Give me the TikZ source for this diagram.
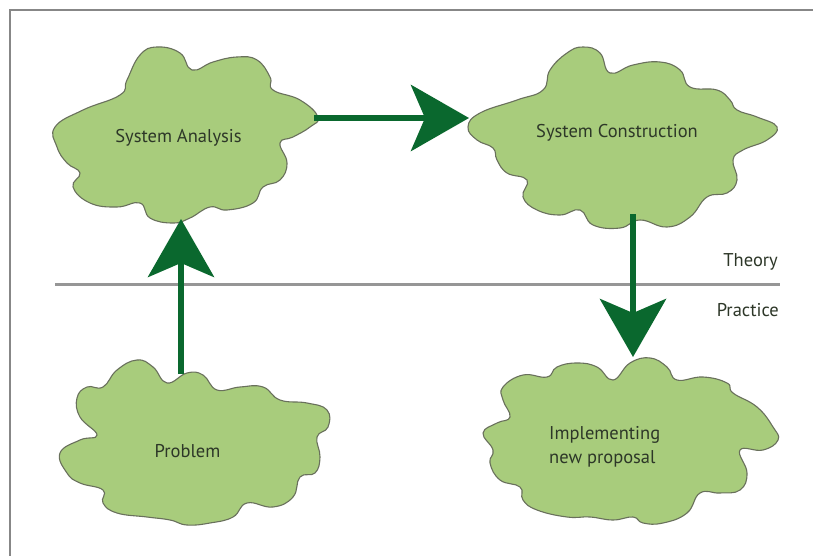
\documentclass[tikz,border=0pt]{standalone}
\usepackage{fontspec}
\setmainfont{PT Sans}
\usetikzlibrary{arrows.meta}
\definecolor{cloudfill}{RGB}{168,204,124}
\definecolor{cloudline}{RGB}{105,112,92}
\definecolor{arrgreen}{RGB}{10,104,46}
\definecolor{txt}{RGB}{45,55,40}
\definecolor{rulegrey}{RGB}{150,150,150}
\tikzset{
  cloudpath/.style={draw=cloudline, fill=cloudfill, line width=1.1pt},
  label/.style={font=\fontsize{18.5}{24}\selectfont, text=txt, inner sep=0pt},
  arr/.style={draw=arrgreen, line width=6.5pt,
    -{Stealth[length=58pt, width=66pt, inset=14pt, fill=arrgreen]}},
}
\begin{document}
\begin{tikzpicture}[x=1pt, y=-1pt]
\useasboundingbox (0,0) rectangle (813,556);
\fill[white] (0,0) rectangle (813,556);
% frame
\draw[draw=rulegrey!90!black, line width=2pt] (10,556) -- (10,10) -- (813,10);
% theory / practice rule
\draw[draw=rulegrey, line width=3pt] (55,284) -- (780,284);
\node[label, anchor=east] (theory) at (778,262) {Theory};
\node[label, anchor=east] (practice) at (779,310) {Practice};

% System Analysis cloud
\path[cloudpath] plot[smooth cycle, tension=0.75] coordinates {
(55,127) (83,110) (120,95) (127,80) (140,55) (157,47) (180,53) (192,70)
(213,62) (237,57) (257,60) (270,77) (273,90) (300,100) (318,117) (310,127)
(293,137) (280,143) (287,163) (280,180) (263,187) (253,203) (227,210)
(210,207) (190,218) (173,223) (150,218) (140,203) (117,207) (90,203)
(73,187) (80,173) (67,163) (57,147)};
% System Construction cloud
\path[cloudpath] plot[smooth cycle, tension=0.75] coordinates {
(468,127) (480,113) (517,100) (543,90) (550,70) (567,53) (583,47) (600,53)
(610,73) (633,65) (660,62) (680,70) (690,87) (717,90) (730,100) (737,110)
(757,117) (777,127) (767,140) (743,150) (733,160) (737,180) (727,193)
(707,197) (690,217) (667,227) (640,220) (620,228) (593,225) (580,210)
(560,215) (537,210) (523,197) (527,180) (507,173) (497,160) (493,148)
(477,140)};
% Problem cloud
\path[cloudpath] plot[smooth cycle, tension=0.75] coordinates {
(60,453) (80,440) (97,435) (80,417) (77,398) (87,387) (103,387) (117,370)
(137,360) (153,367) (167,383) (187,373) (203,375) (217,390) (240,387)
(263,387) (280,400) (307,403) (327,410) (328,427) (317,437) (320,457)
(315,473) (300,477) (293,497) (273,507) (247,503) (233,517) (210,523)
(187,525) (170,520) (147,517) (117,513) (103,503) (103,490) (80,483)
(67,473)};
% Implementing cloud
\path[cloudpath] plot[smooth cycle, tension=0.75] coordinates {
(483,433) (497,423) (510,417) (503,400) (503,387) (523,375) (547,377)
(557,367) (577,363) (597,367) (613,380) (630,363) (650,358) (667,367)
(677,380) (703,377) (727,383) (733,393) (757,407) (773,427) (778,440)
(763,450) (740,450) (747,473) (740,490) (720,493) (700,493) (687,513)
(663,523) (643,523) (633,517) (613,520) (590,517) (567,517) (537,510)
(523,500) (520,487) (500,480) (490,463) (493,450)};

% labels
\node[label] (sa) at (178.5,138) {System Analysis};
\node[label] (sc) at (617,133) {System Construction};
\node[label] (pr) at (187.5,451) {Problem};
\node[label, align=left, anchor=west] (im) at (549,447) {Implementing\\new proposal};

% arrow end points on cloud borders
\coordinate (saE) at (314,118);
\coordinate (scW) at (469,118);
\coordinate (saS) at (181,219);
\coordinate (prN) at (181,374);
\coordinate (scS) at (633,214);
\coordinate (imN) at (633,357);

\draw[arr] (saE) -- (scW);
\draw[arr] (prN) -- (saS);
\draw[arr] (scS) -- (imN);
\end{tikzpicture}
\end{document}
